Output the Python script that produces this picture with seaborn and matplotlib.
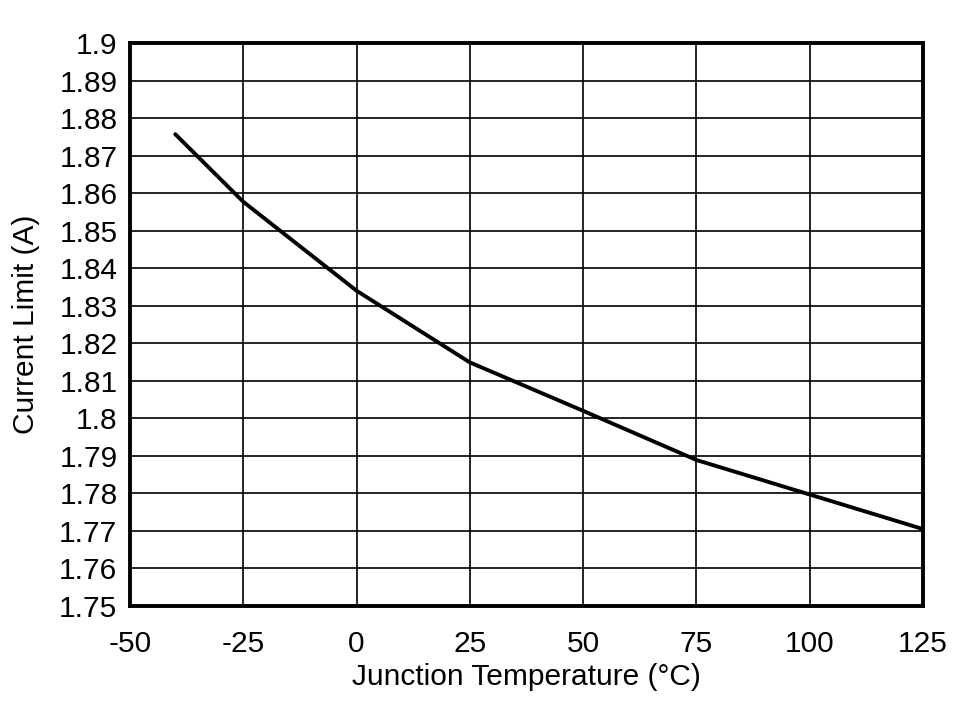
import matplotlib
matplotlib.use("Agg")
import matplotlib.pyplot as plt
import seaborn as sns
import pandas as pd

temperature = [-40, -25, 0, 25, 50, 75, 100, 125]
current_limit = [1.8757, 1.8577, 1.8340, 1.8149, 1.8020, 1.7889, 1.7797, 1.7705]
x_ticks = [-50, -25, 0, 25, 50, 75, 100, 125]
y_ticks = [1.75, 1.76, 1.77, 1.78, 1.79, 1.80, 1.81, 1.82, 1.83, 1.84, 1.85, 1.86, 1.87, 1.88, 1.89, 1.90]
y_labels = ["1.75", "1.76", "1.77", "1.78", "1.79", "1.8", "1.81", "1.82", "1.83", "1.84",
            "1.85", "1.86", "1.87", "1.88", "1.89", "1.9"]

df = pd.DataFrame({"T": temperature, "I": current_limit})

sns.set_style("white")
plt.rcParams["font.family"] = ["Liberation Sans", "DejaVu Sans"]

fig = plt.figure(figsize=(9.72, 7.01), dpi=100)
ax = fig.add_axes([0.1337, 0.1355, 0.8159, 0.8032])

sns.lineplot(data=df, x="T", y="I", ax=ax, color="black", linewidth=2.8)

ax.set_xlim(-50, 125)
ax.set_ylim(1.75, 1.90)
ax.set_xticks(x_ticks)
ax.set_xticklabels([str(t) for t in x_ticks])
ax.set_yticks(y_ticks)
ax.set_yticklabels(y_labels)
ax.grid(True, color="black", linewidth=1.2)
ax.set_axisbelow(True)
for s in ax.spines.values():
    s.set_visible(True)
    s.set_color("black")
    s.set_linewidth(2.8)
ax.tick_params(axis="x", labelsize=21.5, length=0, pad=17, colors="black")
ax.tick_params(axis="y", labelsize=21.5, length=0, pad=9, colors="black")
ax.set_xlabel("Junction Temperature (°C)", fontsize=21.5, labelpad=4, color="black")
ax.set_ylabel("Current Limit (A)", fontsize=21.5, labelpad=14, color="black")

fig.savefig("out.png", dpi=100)
